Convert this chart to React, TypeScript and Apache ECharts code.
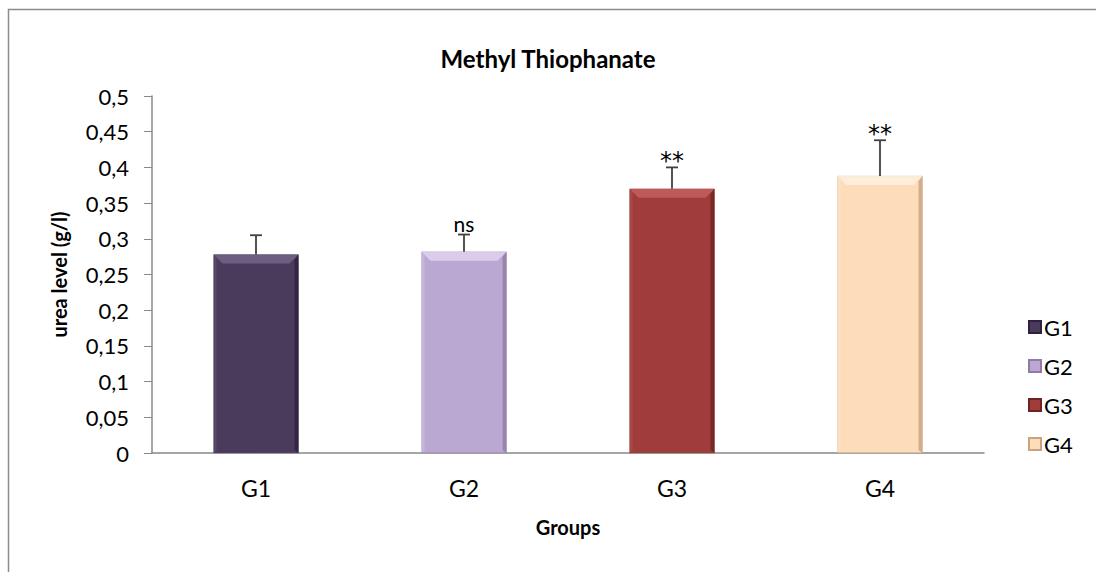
import React, { useEffect, useRef } from "react";
import * as echarts from "echarts";

const categories = ["G1", "G2", "G3", "G4"];
const means = [0.278, 0.282, 0.37, 0.388];
const errors = [0.027, 0.024, 0.03, 0.05];
const marks = ["", "ns", "**", "**"];
const yTicks = { min: 0, max: 0.5, interval: 0.05 };

const baseColors = ["#4A3A5C", "#BBA8D2", "#A03C3B", "#FDDCBA"];
const lightColors = ["#7A6A8E", "#E4D8F2", "#C86664", "#FFF3E6"];
const darkColors = ["#2E2140", "#8F7BA6", "#6E2322", "#C9A27E"];

const FONT = "Lato, 'Open Sans', sans-serif";

export default function App() {
  const ref = useRef<HTMLDivElement>(null);
  useEffect(() => {
    if (!ref.current) return;
    const chart = echarts.init(ref.current, null, { renderer: "svg" });
    const barWidth = 85;
    const barSeries = categories.map((name, i) => ({
      name,
      type: "bar",
      stack: "total",
      barWidth,
      data: categories.map((_, j) => (j === i ? means[i] : null)),
      itemStyle: {
        color: baseColors[i],
        borderColor: darkColors[i],
        borderWidth: 0.5,
      },
    }));
    const bevelSeries = {
      type: "custom",
      name: "bevel",
      data: means.map((v, i) => [i, v]),
      z: 3,
      renderItem: (params: any, api: any) => {
        const i = api.value(0);
        const top = api.coord([i, api.value(1)]);
        const bottom = api.coord([i, 0]);
        const x0 = top[0] - barWidth / 2;
        const x1 = top[0] + barWidth / 2;
        const y0 = top[1];
        const yb = bottom[1];
        const b = 9;
        return {
          type: "group",
          children: [
            {
              type: "polygon",
              shape: { points: [[x0, y0], [x1, y0], [x1 - b, y0 + b], [x0 + b, y0 + b]] },
              style: { fill: lightColors[i], opacity: 0.75 },
            },
            {
              type: "polygon",
              shape: { points: [[x1, y0], [x1, yb], [x1 - 4, yb - 3], [x1 - 4, y0 + 5]] },
              style: { fill: darkColors[i], opacity: 0.8 },
            },
            {
              type: "polygon",
              shape: { points: [[x0, y0], [x0 + 3, y0 + 4], [x0 + 3, yb - 2], [x0, yb]] },
              style: { fill: lightColors[i], opacity: 0.3 },
            },
          ],
        };
      },
    };
    const errSeries = {
      type: "custom",
      name: "err",
      data: means.map((v, i) => [i, v, v + errors[i]]),
      z: 4,
      renderItem: (params: any, api: any) => {
        const i = api.value(0);
        const p0 = api.coord([i, api.value(1)]);
        const p1 = api.coord([i, api.value(2)]);
        const children: any[] = [
          {
            type: "line",
            shape: { x1: p0[0], y1: p0[1], x2: p1[0], y2: p1[1] },
            style: { stroke: "#404040", lineWidth: 1.8 },
          },
          {
            type: "line",
            shape: { x1: p1[0] - 6, y1: p1[1], x2: p1[0] + 6, y2: p1[1] },
            style: { stroke: "#404040", lineWidth: 1.8 },
          },
        ];
        if (marks[i]) {
          const star = marks[i].indexOf("*") >= 0;
          children.push({
            type: "text",
            x: p1[0],
            y: star ? p1[1] + 6 : p1[1] - 1,
            style: {
              text: marks[i],
              fill: "#000",
              font: star ? `24px 'DejaVu Sans', sans-serif` : `21px ${FONT}`,
              textAlign: "center",
              textVerticalAlign: "bottom",
            },
          });
        }
        return { type: "group", children };
      },
    };
    chart.setOption({
      animation: false,
      title: {
        text: "Methyl Thiophanate",
        left: "center",
        top: 41,
        textStyle: { fontFamily: FONT, fontSize: 24, fontWeight: "bold", color: "#000" },
      },
      graphic: [
        {
          type: "rect",
          shape: { x: 8.5, y: 9.5, width: 1100, height: 600 },
          style: { fill: "none", stroke: "#8c8c8c", lineWidth: 1.5 },
          silent: true,
        },
      ],
      legend: {
        data: categories,
        orient: "vertical",
        left: 1023,
        top: 311,
        itemWidth: 12,
        itemHeight: 12,
        itemGap: 17,
        icon: "rect",
        textStyle: { fontFamily: FONT, fontSize: 22, color: "#000", padding: [0, 0, 0, -2] },
      },
      grid: { left: 152, right: 112, top: 96, bottom: 119, containLabel: false },
      xAxis: {
        type: "category",
        data: categories,
        name: "Groups",
        nameLocation: "middle",
        nameGap: 64,
        nameMoveOverlap: false,
        nameTextStyle: { fontFamily: FONT, fontSize: 20, fontWeight: "bold", color: "#000" },
        axisLine: { lineStyle: { color: "#888", width: 1.5 } },
        axisTick: { show: false },
        axisLabel: { fontFamily: FONT, fontSize: 23, color: "#000", margin: 23 },
      },
      yAxis: {
        type: "value",
        min: yTicks.min,
        max: yTicks.max,
        interval: yTicks.interval,
        name: "urea level (g/l)",
        nameLocation: "middle",
        nameGap: 83,
        nameMoveOverlap: false,
        nameTextStyle: { fontFamily: FONT, fontSize: 20, fontWeight: "bold", color: "#000" },
        axisLine: { show: true, lineStyle: { color: "#888", width: 1.5 } },
        axisTick: { show: true, length: 8, lineStyle: { color: "#888" } },
        splitLine: { show: false },
        axisLabel: {
          fontFamily: FONT,
          fontSize: 22,
          color: "#000",
          margin: 23,
          formatter: (v: number) => String(Math.round(v * 100) / 100).replace(".", ","),
        },
      },
      series: [...barSeries, bevelSeries, errSeries],
    });
    return () => chart.dispose();
  }, []);
  return (
    <div
      ref={ref}
      style={{ position: "absolute", left: 0, top: 0, width: 1096, height: 572, background: "#fff" }}
    />
  );
}
